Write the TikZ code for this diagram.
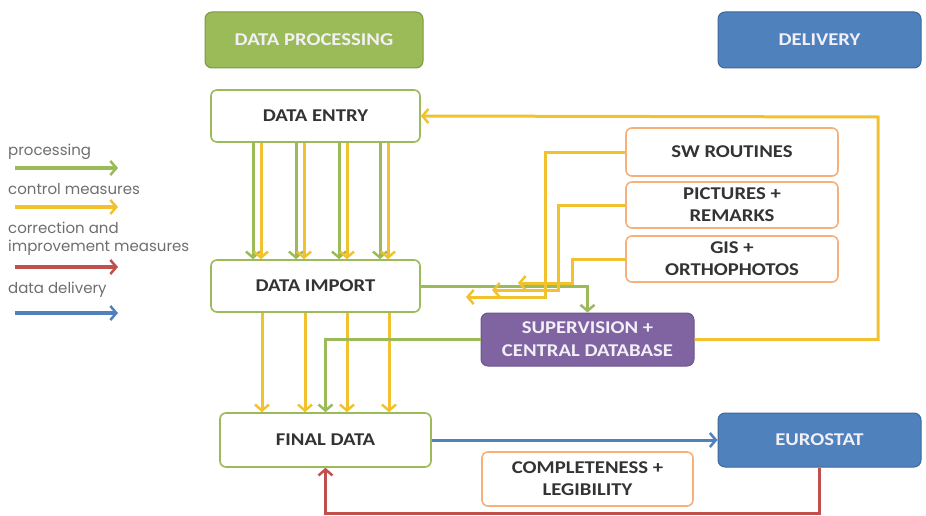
\documentclass[tikz,border=0pt]{standalone}
\usepackage{fontspec}
\setmainfont{Carlito}[FakeStretch=1.15]
\newfontfamily\legendfont{Poppins}
\usepackage{tikz}
\usetikzlibrary{arrows.meta, calc}

\definecolor{procgreen}{HTML}{9BBB59}
\definecolor{ctrlyellow}{HTML}{F2C12E}
\definecolor{corrred}{HTML}{C0504D}
\definecolor{delivblue}{HTML}{4F81BD}
\definecolor{superpurple}{HTML}{8064A2}
\definecolor{srcorange}{HTML}{F7B07A}
\definecolor{legendgray}{HTML}{6E6E6E}

\begin{document}
\begin{tikzpicture}[x=1pt, y=-1pt, inner sep=0pt,
	stagebox/.style={rounded corners=6pt, draw=procgreen, line width=1.6pt, fill=white, font=\bfseries\fontsize{18}{22}\selectfont, text=black!80},
	sourcebox/.style={rounded corners=6pt, draw=srcorange, line width=1.6pt, fill=white, align=center, font=\bfseries\fontsize{18}{22}\selectfont, text=black!80},
	headbox/.style={rounded corners=7pt, line width=1pt, font=\bfseries\fontsize{18}{23}\selectfont, text=white!90!superpurple, align=center},
	legendtext/.style={anchor=west, align=left, font=\legendfont\fontsize{15}{18}\selectfont, text=legendgray},
	proc/.style={draw=procgreen, line width=3pt, -{Straight Barb[length=6pt, width=14pt, line width=2.5pt]}},
	ctrl/.style={draw=ctrlyellow, line width=3pt, -{Straight Barb[length=6pt, width=14pt, line width=2.5pt]}},
	corr/.style={draw=corrred, line width=3pt, -{Straight Barb[length=6pt, width=14pt, line width=2.5pt]}},
	deliv/.style={draw=delivblue, line width=3pt, -{Straight Barb[length=6pt, width=14pt, line width=2.5pt]}}]
			\useasboundingbox (0,0) rectangle (926,516);
			
			% headers
			\node[headbox, fill=procgreen, draw=procgreen!80!black, minimum width=218pt, minimum height=56pt] (hproc) at (314,40) {DATA PROCESSING};
			\node[headbox, fill=delivblue, draw=delivblue!80!black, minimum width=203pt, minimum height=56pt] (hdeliv) at (819.5,40) {DELIVERY};
			
			% processing stages
			\node[stagebox, minimum width=209pt, minimum height=52pt] (entry) at (315.5,116) {DATA ENTRY};
			\node[stagebox, minimum width=209pt, minimum height=52pt] (import) at (315.5,286) {DATA IMPORT};
			\node[stagebox, minimum width=211pt, minimum height=54pt] (final) at (325.5,440) {FINAL DATA};
			
			% control sources
			\node[sourcebox, minimum width=212pt, minimum height=48pt] (swrout) at (732,152) {SW ROUTINES};
			\node[sourcebox, minimum width=212pt, minimum height=46pt] (pics) at (732,205) {PICTURES +\\REMARKS};
			\node[sourcebox, minimum width=212pt, minimum height=46pt] (gis) at (732,259) {GIS +\\ORTHOPHOTOS};
			\node[sourcebox, minimum width=211pt, minimum height=54pt] (compl) at (587.5,479) {COMPLETENESS +\\LEGIBILITY};
			
			\node[headbox, fill=superpurple, draw=superpurple!85!black, minimum width=213pt, minimum height=53pt] (super) at (587.5,339.5) {SUPERVISION +\\CENTRAL DATABASE};
			\node[headbox, fill=delivblue, draw=delivblue!80!black, minimum width=203pt, minimum height=54pt] (euro) at (819.5,440) {EUROSTAT};
			
			% legend
			\node[legendtext] (lgproc) at (8,152) {processing};
			\node[legendtext] (lgctrl) at (8,189) {control measures};
			\node[legendtext] (lgcorr) at (8,239) {correction and\\improvement measures};
			\node[legendtext] (lgdeliv) at (8,290) {data delivery};
			\coordinate (lgproc_a) at (15,168);  \coordinate (lgproc_b) at (118,168);
			\coordinate (lgctrl_a) at (15,207);  \coordinate (lgctrl_b) at (118,207);
			\coordinate (lgcorr_a) at (15,267);  \coordinate (lgcorr_b) at (118,267);
			\coordinate (lgdeliv_a) at (15,313); \coordinate (lgdeliv_b) at (118,313);
			\draw[proc, line width=4pt](lgproc_a) -- (lgproc_b);
			\draw[ctrl, line width=4pt](lgctrl_a) -- (lgctrl_b);
			\draw[corr, line width=4pt](lgcorr_a) -- (lgcorr_b);
			\draw[deliv, line width=4pt](lgdeliv_a) -- (lgdeliv_b);
			
			% entry -> import
			\draw[proc](entry.south -| 253,0) -- (import.north -| 253,0);
			\draw[ctrl](entry.south -| 261,0) -- (import.north -| 261,0);
			\draw[proc](entry.south -| 296,0) -- (import.north -| 296,0);
			\draw[ctrl](entry.south -| 304,0) -- (import.north -| 304,0);
			\draw[proc](entry.south -| 339,0) -- (import.north -| 339,0);
			\draw[ctrl](entry.south -| 347,0) -- (import.north -| 347,0);
			\draw[proc](entry.south -| 380,0) -- (import.north -| 380,0);
			\draw[ctrl](entry.south -| 388,0) -- (import.north -| 388,0);
			
			% import -> final
			\draw[ctrl](import.south -| 262,0) -- (final.north -| 262,0);
			\draw[ctrl](import.south -| 305,0) -- (final.north -| 305,0);
			\draw[ctrl](import.south -| 347,0) -- (final.north -| 347,0);
			\draw[ctrl](import.south -| 389,0) -- (final.north -| 389,0);
			
			% supervision loop
			\draw[proc](import.east) -| (super.north);
			\draw[proc](super.west) -| (final.north);
			\coordinate (ctrlturn) at (878,117);
			\draw[ctrl](super.east) -| (ctrlturn) -- (entry.east);
			
			% control sources -> supervision
			\coordinate (swend) at (466,297);
			\coordinate (picsend) at (492,290);
			\coordinate (gisend) at (518,283);
			\draw[ctrl](swrout.west) -| (545,297) -- (swend);
			\draw[ctrl](pics.west) -| (558,290) -- (picsend);
			\draw[ctrl](gis.west) -| (572,283) -- (gisend);
			
			% delivery and feedback
			\draw[deliv](final.east) -- (euro.west);
			\coordinate (corrturn) at (325.5,513);
			\draw[corr](euro.south) |- (corrturn) -- (final.south);
		\end{tikzpicture}
\end{document}
